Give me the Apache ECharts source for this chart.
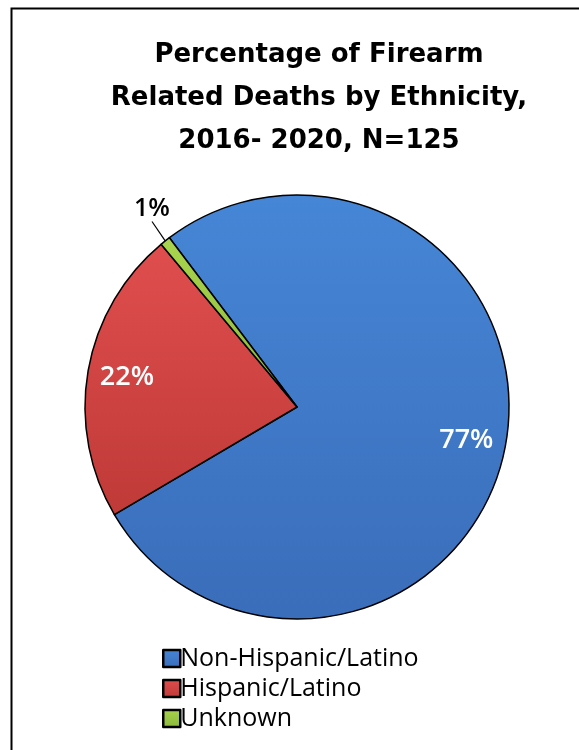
<!DOCTYPE html>
<html><head><meta charset="utf-8">
<script src="https://cdn.jsdelivr.net/npm/echarts@6/dist/echarts.min.js"></script>
<style>html,body{margin:0;padding:0;background:#fff}#c{width:579px;height:750px}</style>
</head><body><div id="c"></div>
<script>
const categories = ['Non-Hispanic/Latino', 'Hispanic/Latino', 'Unknown'];
const counts = [96, 28, 1];
const labels = ['77%', '22%', '1%'];
const titleText = 'Percentage of Firearm\nRelated Deaths by Ethnicity,\n2016- 2020, N=125';

const grads = [
  ['#4686d6', '#3a6dba'],
  ['#e04e4e', '#bf3a38'],
  ['#a9d44e', '#8ab83a']
];
function grad(i) {
  return new echarts.graphic.LinearGradient(0, 0, 0, 1, [
    {offset: 0, color: grads[i][0]}, {offset: 1, color: grads[i][1]}
  ]);
}
const FONT = '"Open Sans", Lato, sans-serif';
const TFONT = '"DejaVu Sans", "Open Sans", sans-serif';
const chart = echarts.init(document.getElementById('c'));
const center = [297, 407];
const R = 212;
chart.setOption({
  animation: false,
  title: {
    text: titleText, left: 314, top: 29, textAlign: 'center',
    textStyle: {fontFamily: TFONT, fontWeight: 'bold', fontSize: 26, lineHeight: 43, color: '#000'}
  },
  graphic: [{
    type: 'rect', shape: {x: 11.5, y: 8.5, width: 700, height: 800},
    style: {fill: 'none', stroke: '#000', lineWidth: 2}, silent: true, z: -1
  }],
  legend: {
    orient: 'vertical', left: 157, top: 641, itemWidth: 17, itemHeight: 17, itemGap: 5,
    icon: 'rect', selectedMode: false,
    itemStyle: {borderColor: '#000', borderWidth: 2.5},
    textStyle: {fontFamily: FONT, fontSize: 25, color: '#000', padding: [0, 0, 0, -5]},
    data: categories
  },
  series: [{
    type: 'pie', center: center, radius: [0, R], startAngle: 127, clockwise: true,
    avoidLabelOverlap: false,
    itemStyle: {borderColor: '#000', borderWidth: 1.5},
    label: {show: false},
    labelLine: {show: false},
    labelLayout: function (p) {
      if (p.dataIndex === 2) return {x: 152, y: 209, align: 'center', verticalAlign: 'middle'};
    },
    data: categories.map((c, i) => ({
      name: c, value: counts[i], itemStyle: {color: grad(i)},
      label: i === 2 ? {show: true, position: 'outside', formatter: labels[i],
        fontFamily: FONT, fontSize: 25, fontWeight: 600, color: '#000', padding: [0, 0, 2, 0]} : {show: false},
      labelLine: i === 2 ? {show: true, length: 14, length2: 0, lineStyle: {color: '#000', width: 1.2}} : {show: false}
    }))
  }, {
    type: 'pie', center: center, radius: [R * 0.62, R * 0.98], startAngle: 127, clockwise: true,
    silent: true, avoidLabelOverlap: false,
    itemStyle: {color: 'rgba(0,0,0,0)'},
    label: {show: true, position: 'inside', fontFamily: FONT, fontSize: 27, fontWeight: 600, color: '#fff'},
    labelLine: {show: false},
    legendHoverLink: false,
    data: categories.map((c, i) => ({
      name: c + ' ', value: counts[i],
      label: i === 2 ? {show: false} : {show: true, formatter: labels[i]}
    }))
  }]
});
</script></body></html>
